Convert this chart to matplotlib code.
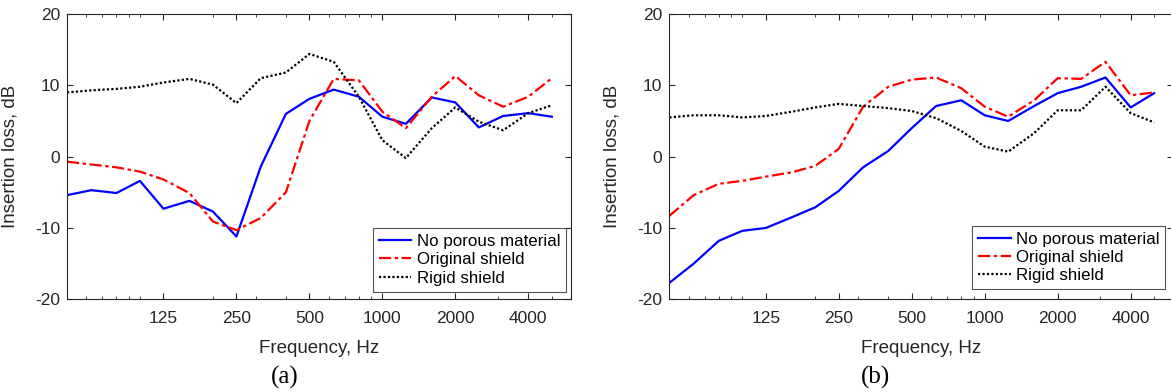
import numpy as np
import matplotlib.pyplot as plt
from matplotlib.ticker import FixedLocator, NullFormatter

plt.rcParams['font.family'] = ['Liberation Sans', 'DejaVu Sans']
plt.rcParams['axes.unicode_minus'] = False

freq = [50, 63, 80, 100, 125, 160, 200, 250, 315, 400, 500, 630, 800,
        1000, 1250, 1600, 2000, 2500, 3150, 4000, 5000]

# (a)
nopor_a = [-5.4, -4.7, -5.1, -3.4, -7.3, -6.2, -7.7, -11.2, -1.4, 6.0, 8.1,
           9.4, 8.4, 5.6, 4.6, 8.3, 7.6, 4.1, 5.7, 6.1, 5.6]
orig_a = [-0.7, -1.1, -1.5, -2.1, -3.2, -5.1, -9.1, -10.3, -8.6, -5.0, 5.0,
          10.9, 10.7, 6.3, 4.0, 8.4, 11.3, 8.6, 7.0, 8.4, 11.0]
rigid_a = [9.0, 9.3, 9.5, 9.8, 10.4, 10.9, 10.1, 7.5, 11.0, 11.8, 14.4,
           13.3, 8.4, 2.3, -0.2, 4.0, 6.9, 4.9, 3.7, 6.1, 7.2]

# (b)
nopor_b = [-17.7, -15.0, -11.8, -10.4, -10.0, -8.5, -7.1, -4.8, -1.5, 0.8, 4.0,
           7.1, 7.9, 5.8, 5.0, 7.1, 8.9, 9.8, 11.1, 6.9, 8.9]
orig_b = [-8.3, -5.4, -3.8, -3.4, -2.8, -2.2, -1.3, 1.1, 7.0, 9.8, 10.8,
          11.1, 9.6, 7.0, 5.6, 7.9, 11.0, 10.9, 13.3, 8.6, 9.0]
rigid_b = [5.5, 5.8, 5.8, 5.5, 5.7, 6.3, 6.9, 7.4, 7.1, 6.8, 6.4,
           5.4, 3.6, 1.4, 0.7, 3.3, 6.5, 6.5, 9.8, 6.1, 4.8]

xticks = [125, 250, 500, 1000, 2000, 4000]
xminor = [60, 70, 80, 90, 100, 200, 300, 400, 600, 700, 800, 900, 3000, 5000]
yticks = [-20, -10, 0, 10, 20]
labels = ['No porous material', 'Original shield', 'Rigid shield']

dark = '#262626'
fig = plt.figure(figsize=(11.71, 3.92), dpi=100)

panels = [
    (0.0572, nopor_a, orig_a, rigid_a, '(a)', 285, (0.99, 0.027)),
    (0.5716, nopor_b, orig_b, rigid_b, '(b)', 875, (0.9835, 0.035)),
]

for left, s1, s2, s3, tag, tagx, lpos in panels:
    ax = fig.add_axes([left, 0.2365, 0.4304, 0.7278])
    ax.plot(freq, s1, color='#0000ff', lw=1.6, ls='-', label=labels[0])
    ax.plot(freq, s2, color='#ff0000', lw=1.6, ls=(0, (5.5, 1.6, 1.5, 1.6)), label=labels[1])
    ax.plot(freq, s3, color='black', lw=1.6, ls=(0, (1, 1)), label=labels[2])
    ax.set_xscale('log')
    ax.set_xlim(50, 6000)
    ax.set_ylim(-20, 20)
    ax.xaxis.set_major_locator(FixedLocator(xticks))
    ax.xaxis.set_minor_locator(FixedLocator(xminor))
    ax.xaxis.set_minor_formatter(NullFormatter())
    ax.set_xticklabels([str(v) for v in xticks])
    ax.set_yticks(yticks)
    ax.tick_params(which='both', direction='in', top=True, right=True,
                   colors=dark, labelsize=12.5)
    ax.tick_params(axis='x', which='major', length=4.5, pad=8.5)
    ax.tick_params(axis='x', which='minor', length=2.2)
    ax.tick_params(axis='y', which='major', length=4.5, pad=5)
    for sp in ax.spines.values():
        sp.set_color(dark)
        sp.set_linewidth(0.8)
    ax.set_xlabel('Frequency, Hz', fontsize=13.5, color=dark)
    ax.set_ylabel('Insertion loss, dB', fontsize=13.5, color=dark)
    ax.xaxis.set_label_coords(0.5, -0.142)
    ax.yaxis.set_label_coords(-0.096, 0.5)
    leg = ax.legend(loc='lower right', bbox_to_anchor=lpos, borderaxespad=0,
                    fontsize=12.2, frameon=True, fancybox=False, borderpad=0.35,
                    labelspacing=0.2, handletextpad=0.3, handlelength=1.9)
    leg.get_frame().set_edgecolor(dark)
    leg.get_frame().set_linewidth(0.8)
    fig.text(tagx / 1171, 1 - 377 / 392, tag, ha='center', va='center',
             fontsize=18, family='Liberation Serif')

fig.savefig('out.png', dpi=100)
